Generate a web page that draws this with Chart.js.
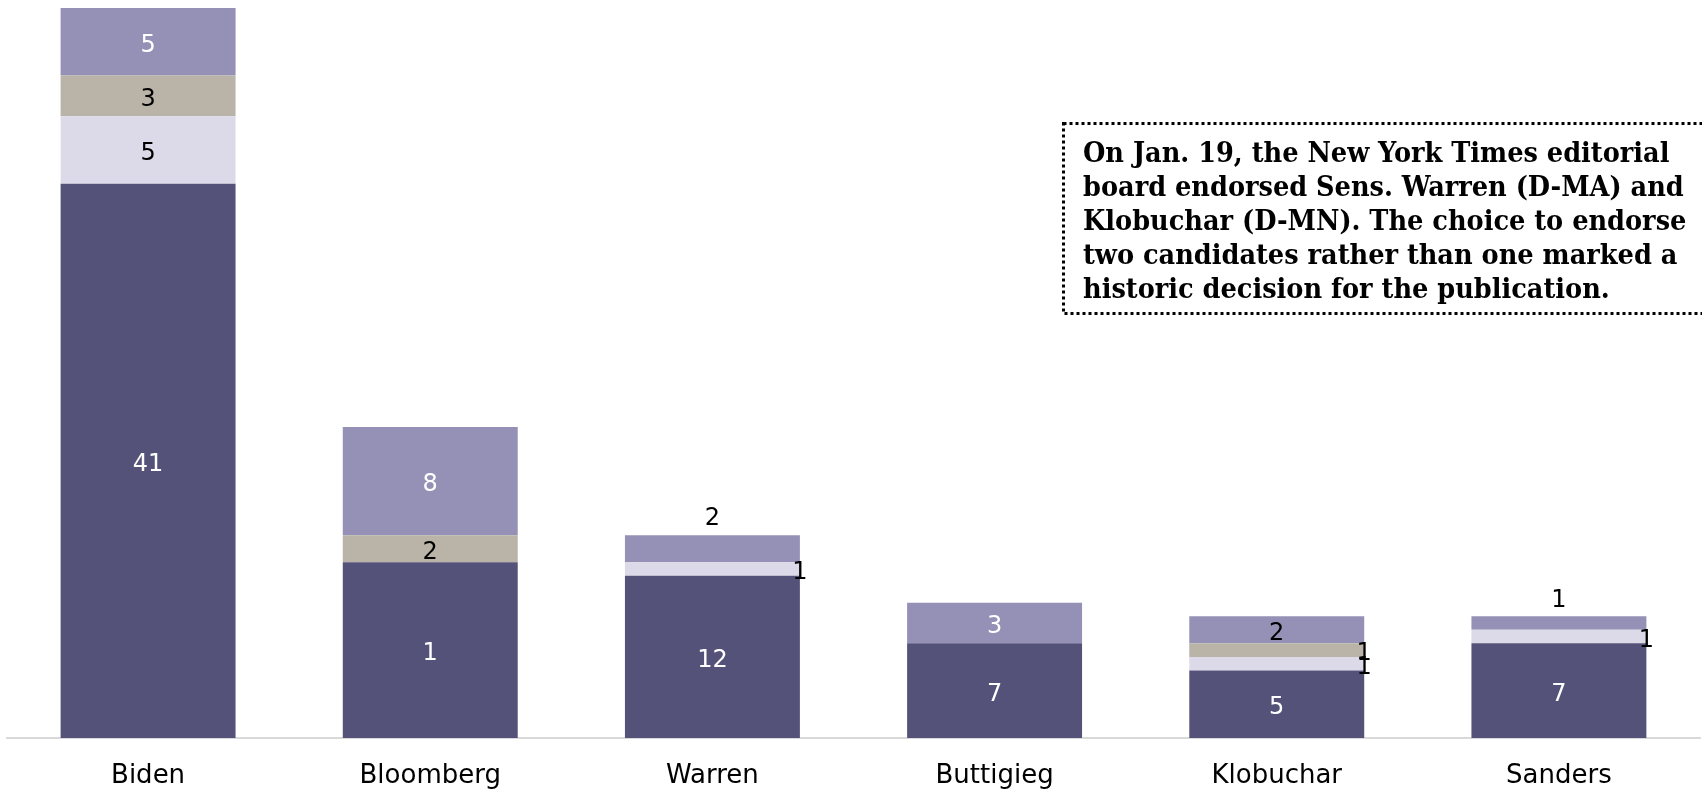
<!DOCTYPE html>
<html>
<head>
<meta charset="utf-8">
<script src="https://cdn.jsdelivr.net/npm/chart.js@4/dist/chart.umd.min.js"></script>
<style>
  html, body { margin: 0; padding: 0; background: #fff; }
  #wrap { width: 1702px; height: 789px; position: relative; }
</style>
</head>
<body>
<div id="wrap"><canvas id="ChartEndorse"></canvas></div>
<script>
// Кандидаты и поддержка по группам (снизу вверх)
var candidates = ['Biden', 'Bloomberg', 'Warren', 'Buttigieg', 'Klobuchar', 'Sanders'];
var seriesDark   = [41, 13, 12, 7, 5, 7];
var seriesLight  = [5, 0, 1, 0, 1, 1];
var seriesTan    = [3, 2, 0, 0, 1, 0];
var seriesMedium = [5, 8, 2, 3, 2, 1];
// подписи, как они стоят на исходнике (у Bloomberg там "1")
var darkLabels = ['41', '1', '12', '7', '5', '7'];

var noteLines = [
    'On Jan. 19, the New York Times editorial',
    'board endorsed Sens. Warren (D-MA) and',
    'Klobuchar (D-MN). The choice to endorse',
    'two candidates rather than one marked a',
    'historic decision for the publication.'
];

// где ставить подпись: c - по центру, r - у правого края, a - над столбцом
var placement = [
    ['c', 'c', 'c', 'c', 'c', 'c'],
    ['c', 'c', 'r', 'c', 'r', 'r'],
    ['c', 'c', 'c', 'c', 'r', 'c'],
    ['c', 'c', 'a', 'c', 'c', 'a']
];
var labelColors = [
    ['#fff', '#fff', '#fff', '#fff', '#fff', '#fff'],
    ['#000', '#000', '#000', '#000', '#000', '#000'],
    ['#000', '#000', '#000', '#000', '#000', '#000'],
    ['#fff', '#fff', '#000', '#fff', '#000', '#000']
];

var labelPlugin = {
    id: 'segLabels',
    afterDatasetsDraw: function(chart) {
        var ctx = chart.ctx;
        ctx.save();
        ctx.font = '24px "DejaVu Sans"';
        ctx.textAlign = 'center';
        ctx.textBaseline = 'middle';
        chart.data.datasets.forEach(function(ds, i) {
            var meta = chart.getDatasetMeta(i);
            meta.data.forEach(function(bar, j) {
                var v = ds.data[j];
                if (!v) return;
                var txt = i === 0 ? darkLabels[j] : String(v);
                var x = bar.x, y = (bar.y + bar.base) / 2;
                var p = placement[i][j];
                if (p === 'r') x = bar.x + bar.width / 2;
                if (p === 'a') y = bar.y - 20;
                ctx.fillStyle = labelColors[i][j];
                ctx.fillText(txt, x, y + 4);
            });
        });
        ctx.restore();
    }
};

var notePlugin = {
    id: 'noteBox',
    afterDraw: function(chart) {
        var ctx = chart.ctx;
        ctx.save();
        ctx.strokeStyle = '#000';
        ctx.lineWidth = 3;
        ctx.setLineDash([3, 3]);
        ctx.strokeRect(1063.5, 123.5, 660, 190);
        ctx.setLineDash([]);
        ctx.fillStyle = '#000';
        ctx.font = 'bold 28.5px "DejaVu Serif Condensed", "DejaVu Serif"';
        ctx.textAlign = 'left';
        ctx.textBaseline = 'alphabetic';
        noteLines.forEach(function(line, k) {
            ctx.fillText(line, 1083, 162 + k * 33.9);
        });
        ctx.restore();
    }
};

var EndorseCanvas = document.getElementById('ChartEndorse');
EndorseCanvas.width = 1702;
EndorseCanvas.height = 789;

var EndorseData = {
    labels: candidates,
    datasets: [
        { data: seriesDark,   backgroundColor: '#55527A' },
        { data: seriesLight,  backgroundColor: '#DCDAE8' },
        { data: seriesTan,    backgroundColor: '#B9B3A8' },
        { data: seriesMedium, backgroundColor: '#9590B5' }
    ]
};

var barChart = new Chart(EndorseCanvas, {
    type: 'bar',
    data: EndorseData,
    options: {
        responsive: false,
        animation: false,
        layout: { padding: { left: 7, right: 2, top: 8, bottom: 0 } },
        datasets: { bar: { barPercentage: 0.62, categoryPercentage: 1.0, borderWidth: 0 } },
        plugins: { legend: { display: false }, tooltip: { enabled: false } },
        scales: {
            x: {
                stacked: true,
                grid: { display: false },
                border: { color: '#D9D9D9', width: 2 },
                ticks: { color: '#000', padding: 15, font: { family: 'DejaVu Sans', size: 26 } },
                afterFit: function(scale) { scale.height = 51; }
            },
            y: {
                stacked: true,
                display: false,
                min: 0,
                max: 54
            }
        }
    },
    plugins: [labelPlugin, notePlugin]
});
</script>
</body>
</html>
